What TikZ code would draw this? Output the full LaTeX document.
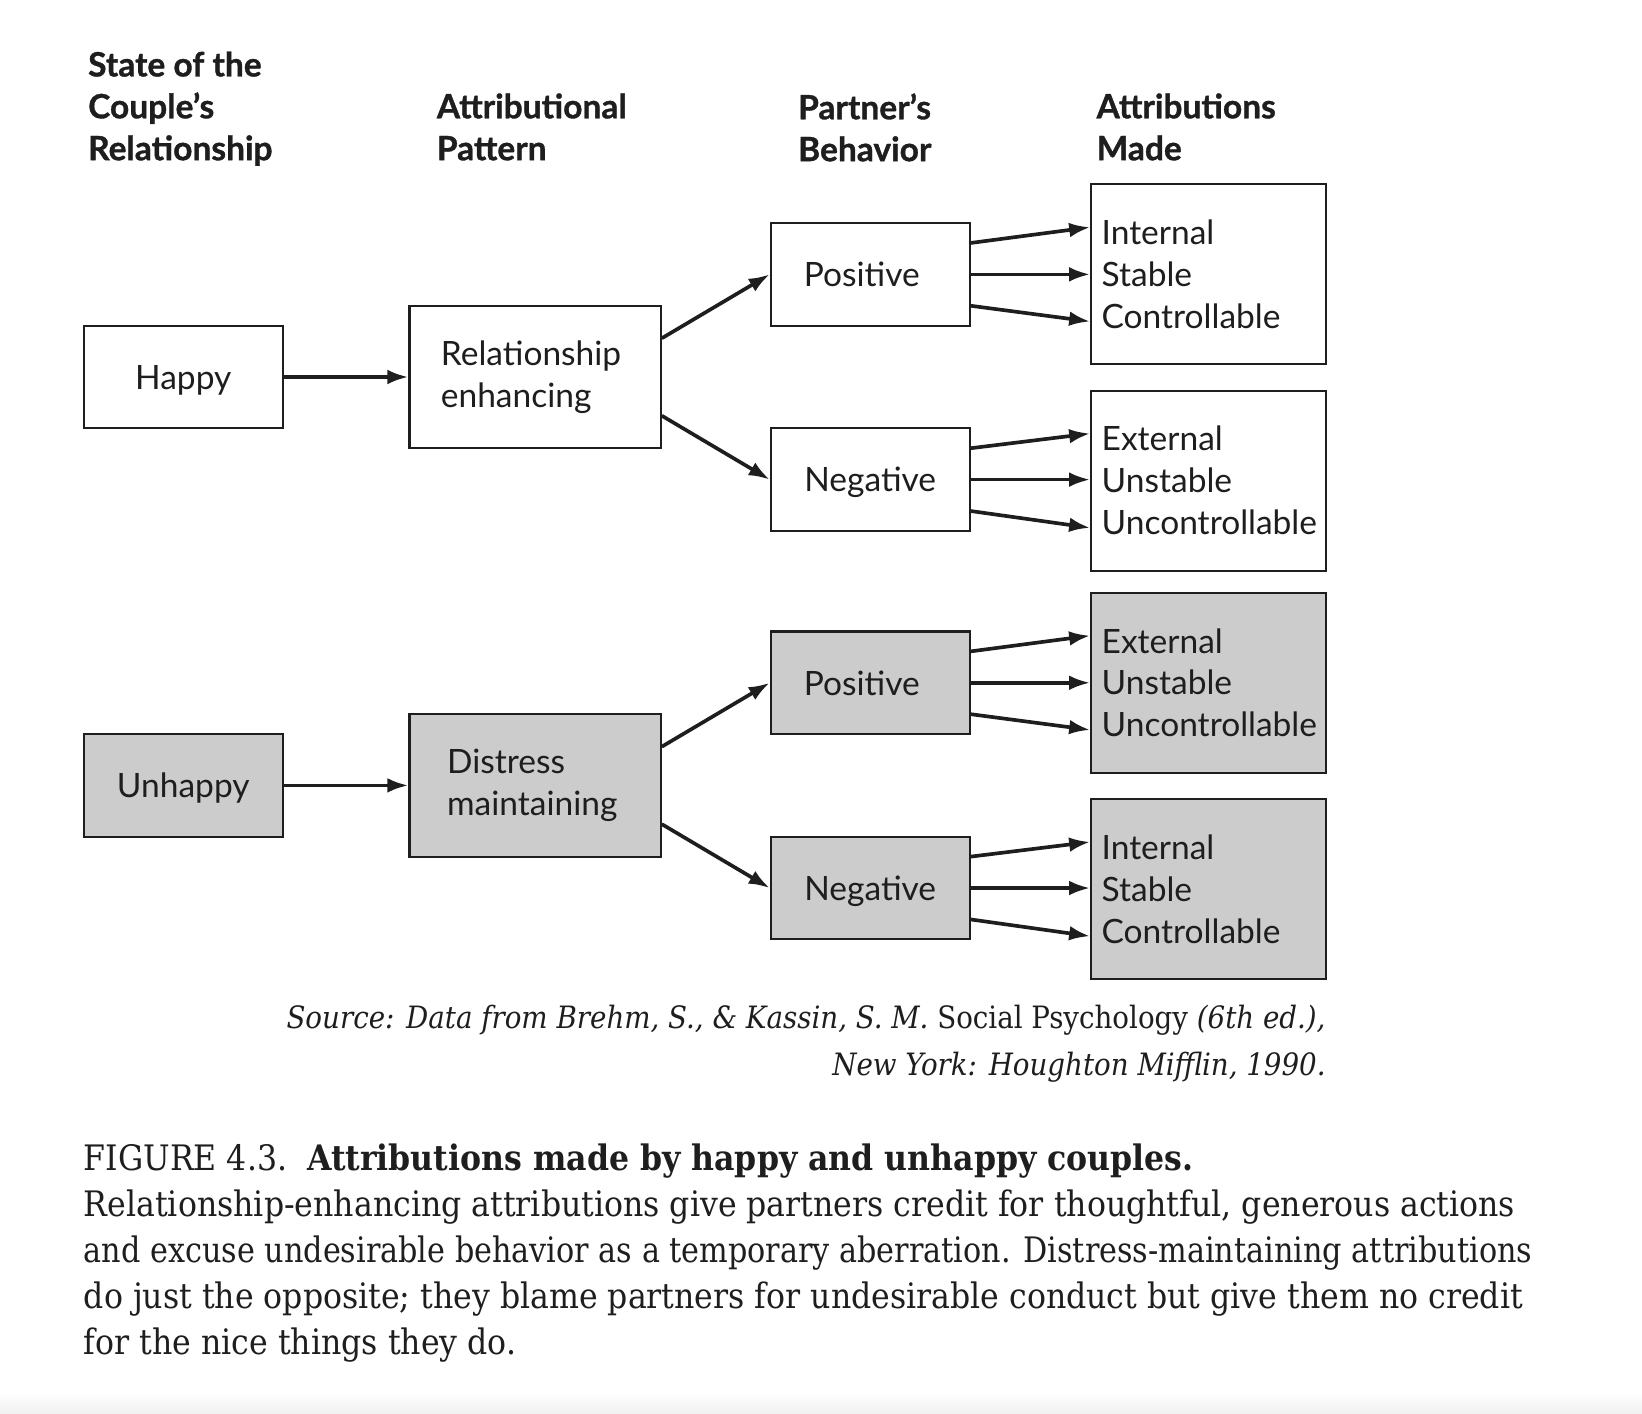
\documentclass[tikz,border=0pt]{standalone}
\usepackage{graphicx}
\usepackage{fontspec}
\setmainfont{Liberation Serif}
\newfontfamily\capfont{DejaVu Serif Condensed}
\newfontfamily\lato{Lato}
\newfontfamily\headfont{Lato}[BoldFeatures={FakeBold=1}]
\usetikzlibrary{arrows.meta,calc}
\definecolor{ink}{HTML}{1E1E1E}
\definecolor{boxgray}{HTML}{CCCCCC}
\begin{document}
\begin{tikzpicture}[x=1pt,y=-1pt,
  box/.style={draw=ink, line width=2pt, inner sep=0pt, font=\lato\fontsize{32}{40}\selectfont, text=ink},
  gbox/.style={box, fill=boxgray},
  smallbox/.style={minimum width=190pt, minimum height=98pt, text depth=0pt},
  pattbox/.style={minimum height=136pt, align=left},
  attbox/.style={text width=204pt, inner xsep=10pt, minimum height=172pt, align=left},
  arr/.style={draw=ink, line width=3.5pt, -{Latex[length=20pt,width=14pt]}},
  head/.style={anchor=north west, align=left, inner sep=0pt, font=\headfont\bfseries\fontsize{32}{40}\selectfont, text=ink}]

\useasboundingbox (0,0) rectangle (1568,1350);
\shade[top color=white, bottom color=gray!12] (0,1330) rectangle (1568,1350);

% headers
\node[head] (h1) at (84,49) {State of the\\Couple’s\\Relationship};
\node[head] (h2) at (417,89) {Attributional\\Pattern};
\node[head] (h3) at (762,89) {Partner’s\\Behavior};
\node[head] (h4) at (1047,89) {Attributions\\Made};

% state
\node[box, smallbox] (happy) at (175,360) {Happy};
\node[gbox, smallbox] (unhappy) at (175,750) {Unhappy};

% pattern
\node[box, pattbox, text width=180pt, inner xsep=30pt] (rel) at (511,360) {Relationship\\enhancing};
\node[gbox, pattbox, text width=168pt, inner xsep=36pt] (dis) at (511,750) {Distress\\maintaining};

% behavior
\node[box, smallbox] (pos1) at (831,262) {Positive\hspace*{16pt}};
\node[box, smallbox] (neg1) at (831,458) {Negative};
\node[gbox, smallbox] (pos2) at (831,652) {Positive\hspace*{16pt}};
\node[gbox, smallbox] (neg2) at (831,848) {Negative};

% attributions
\node[box, attbox] (att1) at (1154,262) {Internal\\Stable\\Controllable};
\node[box, attbox] (att2) at (1154,459) {External\\Unstable\\Uncontrollable};
\node[gbox, attbox] (att3) at (1154,652) {External\\Unstable\\Uncontrollable};
\node[gbox, attbox] (att4) at (1154,849) {Internal\\Stable\\Controllable};

% connectors
\draw[arr] (happy) -- (rel);
\draw[arr] (unhappy) -- (dis);
\draw[arr] ($(rel.east)+(0,-37)$) -- (pos1.west);
\draw[arr] ($(rel.east)+(0,37)$) -- (neg1.west);
\draw[arr] ($(dis.east)+(0,-37)$) -- (pos2.west);
\draw[arr] ($(dis.east)+(0,37)$) -- (neg2.west);
\foreach \s/\t in {pos1/att1,neg1/att2,pos2/att3,neg2/att4}{
  \draw[arr] ($(\s.east)+(0,-30)$) -- ($(\t.west)+(0,-45)$);
  \draw[arr] (\s.east) -- (\s.east -| \t.west);
  \draw[arr] ($(\s.east)+(0,30)$) -- ($(\t.west)+(0,45)$);
}

% source
\node[anchor=north east, align=right, inner sep=0pt, font=\capfont\fontsize{29.4}{44}\selectfont\itshape, text=ink] (src) at (1266,960)
  {Source: Data from Brehm, S., \& Kassin, S. M. {\upshape Social Psychology} (6th ed.),\\New York: Houghton Mifflin, 1990.};

% caption
\node[anchor=north west, align=left, inner sep=0pt, font=\capfont\fontsize{33.5}{44}\selectfont, text=ink] (cap) at (80,1092)
  {FIGURE 4.3.\ \ {\bfseries Attributions made by happy and unhappy couples.}\\
   Relationship-enhancing attributions give partners credit for thoughtful, generous actions\\
   \scalebox{0.958}[1]{and excuse undesirable behavior as a temporary aberration. Distress-maintaining attributions}\\
   do just the opposite; they blame partners for undesirable conduct but give them no credit\\
   for the nice things they do.};
\end{tikzpicture}
\end{document}
